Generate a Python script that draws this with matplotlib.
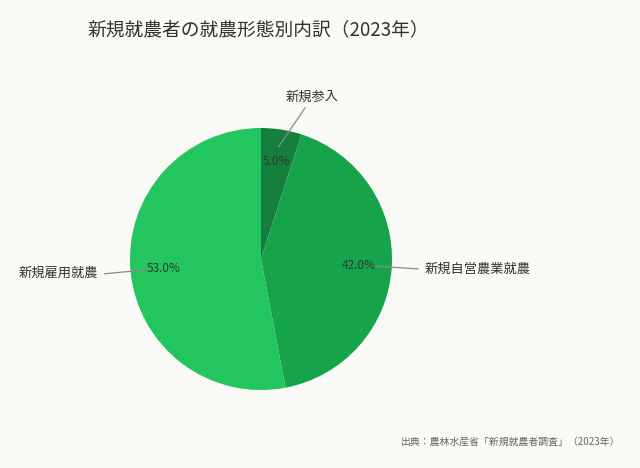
import matplotlib
matplotlib.use("Agg")
import matplotlib.pyplot as plt
import numpy as np

plt.rcParams['font.family'] = ['Noto Sans CJK JP', 'DejaVu Sans']

categories = ["新規参入", "新規自営農業就農", "新規雇用就農"]
values = [5.0, 42.0, 53.0]
colors = ["#15803d", "#16a34a", "#22c55e"]
title = "新規就農者の就農形態別内訳（2023年）"
source = "出典：農林水産省「新規就農者調査」（2023年）"

W, H = 640, 468
cx, cy, R = 261, 259, 131
bg = "#f9f9f5"

fig = plt.figure(figsize=(W / 100, H / 100), dpi=100, facecolor=bg)
ax = fig.add_axes([0, 0, 1, 1])
ax.set_facecolor(bg)

wedges, _, autotexts = ax.pie(
    values, colors=colors, startangle=90, counterclock=False,
    autopct=lambda p: f"{p:.1f}%", pctdistance=0.75, radius=1.0,
    wedgeprops=dict(linewidth=0),
    textprops=dict(fontsize=8.5, color="#2d3b33"))

ax.set_aspect('auto')
ax.set_xlim(-cx / R, (W - cx) / R)
ax.set_ylim(-(H - cy) / R, cy / R)
ax.axis('off')

# label placements (text anchor positions, layout only)
label_pos = [(0.389, 1.237, 'center', (0.336, 1.153)),
             (1.252, -0.076, 'left', None),
             (-1.244, -0.107, 'right', None)]

for w, lab, (tx, ty, ha, end) in zip(wedges, categories, label_pos):
    ang = np.deg2rad((w.theta1 + w.theta2) / 2)
    sx, sy = 0.87 * np.cos(ang), 0.87 * np.sin(ang)
    if end is None:
        ex, ey = 1.2 * np.cos(ang), 1.2 * np.sin(ang)
    else:
        ex, ey = end
    ax.plot([sx, ex], [sy, ey], color="#8a8a8a", lw=0.9)
    ax.text(tx, ty, lab, ha=ha, va='center', fontsize=9.5, color="#333333")

fig.text(87 / W, 1 - 30 / H, title, ha='left', va='center',
         fontsize=13.5, color="#333333")
fig.text(620 / W, 1 - 442 / H, source, ha='right', va='center',
         fontsize=7.1, color="#666666")

fig.savefig("out.png", dpi=100, facecolor=bg)
